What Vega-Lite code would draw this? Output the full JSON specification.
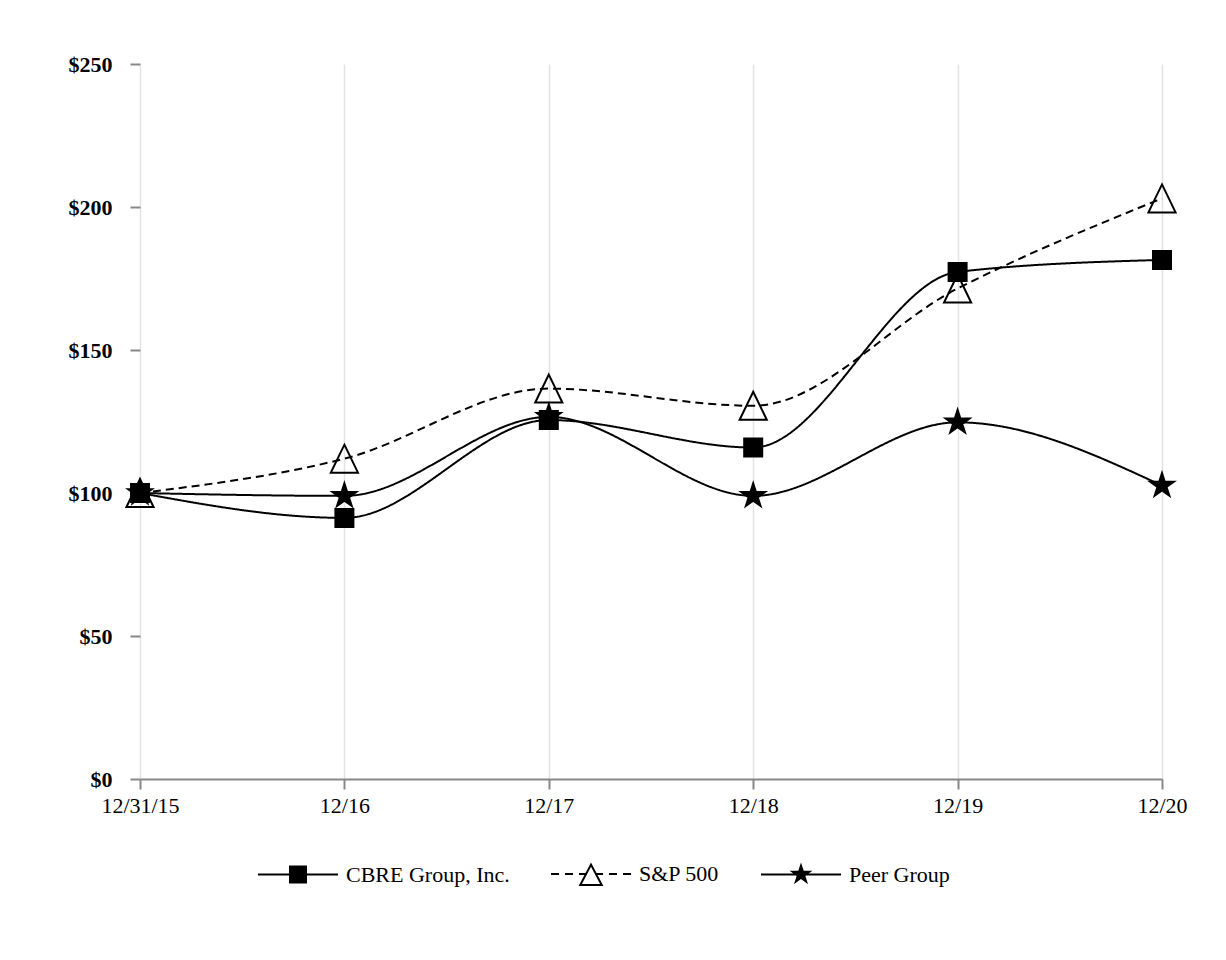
{
  "$schema": "https://vega.github.io/schema/vega-lite/v6.json",
  "autosize": "none",
  "width": 1022,
  "height": 715,
  "padding": {"left": 140, "top": 64, "right": 64, "bottom": 181},
  "background": "white",
  "config": {"view": {"stroke": null}, "font": "Liberation Serif"},
  "data": {
    "values": [
      {"date": "12/31/15", "series": "CBRE Group, Inc.", "value": 100},
      {"date": "12/16", "series": "CBRE Group, Inc.", "value": 91.3},
      {"date": "12/17", "series": "CBRE Group, Inc.", "value": 125.5},
      {"date": "12/18", "series": "CBRE Group, Inc.", "value": 115.9},
      {"date": "12/19", "series": "CBRE Group, Inc.", "value": 177.3},
      {"date": "12/20", "series": "CBRE Group, Inc.", "value": 181.5},
      {"date": "12/31/15", "series": "S&P 500", "value": 100},
      {"date": "12/16", "series": "S&P 500", "value": 112.0},
      {"date": "12/17", "series": "S&P 500", "value": 136.5},
      {"date": "12/18", "series": "S&P 500", "value": 130.5},
      {"date": "12/19", "series": "S&P 500", "value": 171.5},
      {"date": "12/20", "series": "S&P 500", "value": 203.0},
      {"date": "12/31/15", "series": "Peer Group", "value": 100},
      {"date": "12/16", "series": "Peer Group", "value": 99.0},
      {"date": "12/17", "series": "Peer Group", "value": 126.6},
      {"date": "12/18", "series": "Peer Group", "value": 99.0},
      {"date": "12/19", "series": "Peer Group", "value": 124.7},
      {"date": "12/20", "series": "Peer Group", "value": 102.6}
    ]
  },
  "encoding": {
    "x": {
      "field": "date",
      "type": "ordinal",
      "sort": null,
      "scale": {"type": "point", "padding": 0},
      "axis": {
        "title": null,
        "labelAngle": 0,
        "labelFont": "Liberation Serif",
        "labelFontSize": 22,
        "labelColor": "black",
        "labelPadding": 6,
        "tickSize": 10,
        "tickColor": "#888888",
        "tickWidth": 2,
        "domainColor": "#888888",
        "domainWidth": 2,
        "grid": true,
        "gridColor": "#e3e3e3",
        "gridWidth": 1.5
      }
    },
    "y": {
      "field": "value",
      "type": "quantitative",
      "scale": {"domain": [0, 250], "nice": false},
      "axis": {
        "title": null,
        "values": [0, 50, 100, 150, 200, 250],
        "labelExpr": "'$' + datum.value",
        "labelFont": "Liberation Serif",
        "labelFontSize": 22,
        "labelFontWeight": "bold",
        "labelColor": "black",
        "labelPadding": 18,
        "tickSize": 10,
        "tickColor": "#888888",
        "tickWidth": 2,
        "domain": false,
        "grid": false
      }
    }
  },
  "layer": [
    {
      "mark": {"type": "line", "interpolate": "monotone", "stroke": "black", "strokeWidth": 2},
      "encoding": {
        "detail": {"field": "series", "type": "nominal"},
        "strokeDash": {
          "condition": {"test": "datum.series === 'S&P 500'", "value": [8, 5]},
          "value": [1, 0]
        }
      }
    },
    {
      "mark": {"type": "point", "stroke": "black", "strokeWidth": 2, "opacity": 1},
      "encoding": {
        "shape": {
          "condition": [
            {"test": "datum.series === 'CBRE Group, Inc.'", "value": "M-1,-1H1V1H-1Z"},
            {"test": "datum.series === 'S&P 500'", "value": "M0,-1L0.97,1L-0.97,1Z"},
            {"test": "datum.series === 'Peer Group'", "value": "M0,-1L0.2245,-0.309L0.9511,-0.309L0.3633,0.118L0.5878,0.809L0,0.382L-0.5878,0.809L-0.3633,0.118L-0.9511,-0.309L-0.2245,-0.309Z"}
          ],
          "field": "series",
          "type": "nominal",
          "scale": {
            "domain": ["CBRE Group, Inc.", "S&P 500", "Peer Group"],
            "range": [
              "M-1,-0.025H1V0.025H-1ZM-0.225,-0.225H0.225V0.225H-0.225Z",
              "M-1,-0.025H-0.8V0.025H-1ZM-0.65,-0.025H-0.45V0.025H-0.65ZM-0.3,-0.025H-0.1V0.025H-0.3ZM0.1,-0.025H0.3V0.025H0.1ZM0.45,-0.025H0.65V0.025H0.45ZM0.8,-0.025H1V0.025H0.8ZM0,-0.29L0.31,0.3L-0.31,0.3ZM0,-0.1825L-0.2272,0.25L0.2272,0.25Z",
              "M-1,-0.025H1V0.025H-1ZM0,-0.3L0.068,-0.093L0.285,-0.093L0.109,0.036L0.176,0.243L0,0.115L-0.176,0.243L-0.109,0.036L-0.285,-0.093L-0.068,-0.093Z"
            ]
          },
          "legend": {
            "title": null,
            "orient": "none",
            "legendX": 118,
            "legendY": 770,
            "direction": "horizontal",
            "padding": 0,
            "symbolSize": 6400,
            "symbolStrokeWidth": 0,
            "symbolStrokeColor": "transparent",
            "symbolFillColor": "black",
            "symbolOpacity": 1,
            "labelFont": "Liberation Serif",
            "labelFontSize": 22,
            "labelColor": "black",
            "labelOffset": 8,
            "labelLimit": 400,
            "columnPadding": 41
          }
        },
        "fill": {
          "condition": {"test": "datum.series === 'S&P 500'", "value": "transparent"},
          "value": "black"
        },
        "size": {
          "condition": [
            {"test": "datum.series === 'S&P 500'", "value": 784},
            {"test": "datum.series === 'Peer Group'", "value": 625}
          ],
          "value": 324
        }
      }
    }
  ]
}
